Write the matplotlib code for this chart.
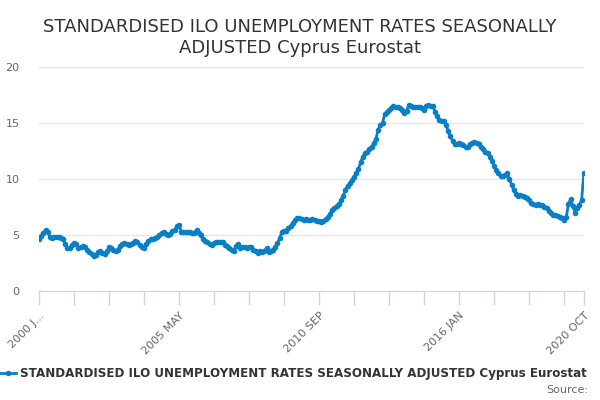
import numpy as np
import matplotlib
matplotlib.use("Agg")
from matplotlib import pyplot as plt

# monthly rates, 2000 JAN .. 2020 OCT
rates_2000_2004 = [
    4.6, 4.9, 5.2, 5.45, 5.3, 4.8, 4.7, 4.85, 4.85, 4.8, 4.7, 4.6,
    4.2, 3.8, 3.8, 4.1, 4.3, 4.2, 3.8, 3.9, 4.0, 3.9, 3.7, 3.5,
    3.3, 3.1, 3.2, 3.5, 3.6, 3.4, 3.3, 3.6, 3.9, 3.8, 3.7, 3.6,
    3.7, 4.0, 4.2, 4.3, 4.2, 4.1, 4.2, 4.3, 4.5, 4.4, 4.1, 3.9,
    3.8, 4.2, 4.5, 4.6, 4.6, 4.7, 4.8, 5.0, 5.2, 5.3, 5.1, 5.0,
]
rates_2005_2009 = [
    5.1, 5.4, 5.45, 5.8, 5.9, 5.3, 5.3, 5.3, 5.3, 5.3, 5.2, 5.2,
    5.45, 5.2, 5.0, 4.6, 4.5, 4.4, 4.2, 4.1, 4.3, 4.4, 4.4, 4.4,
    4.4, 4.1, 4.0, 3.8, 3.7, 3.6, 4.0, 4.2, 3.8, 3.95, 3.9, 3.8,
    3.9, 3.95, 3.7, 3.6, 3.4, 3.6, 3.5, 3.6, 3.8, 3.5, 3.6, 3.7,
    3.95, 4.3, 4.7, 5.3, 5.4, 5.4, 5.65, 5.8, 6.1, 6.3, 6.5, 6.5,
]
rates_2010_2014 = [
    6.4, 6.3, 6.4, 6.3, 6.3, 6.4, 6.3, 6.25, 6.25, 6.2, 6.25, 6.4,
    6.6, 6.9, 7.2, 7.4, 7.6, 7.8, 8.1, 8.5, 9.0, 9.4, 9.6, 9.9,
    10.2, 10.5, 10.9, 11.5, 12.0, 12.3, 12.4, 12.7, 12.9, 13.2, 13.6, 14.4,
    14.8, 15.0, 15.8, 16.0, 16.2, 16.3, 16.5, 16.4, 16.4, 16.3, 16.2, 15.9,
    16.1, 16.6, 16.5, 16.4, 16.4, 16.4, 16.4, 16.3, 16.2, 16.5, 16.6, 16.5,
]
rates_2015_2020 = [
    16.5, 16.0, 15.6, 15.3, 15.2, 15.2, 14.8, 14.3, 13.8, 13.4, 13.1, 13.1,
    13.2, 13.1, 13.0, 12.9, 12.9, 13.1, 13.2, 13.3, 13.2, 13.1, 12.9, 12.7,
    12.4, 12.3, 12.0, 11.6, 11.2, 10.8, 10.5, 10.3, 10.3, 10.4, 10.5, 10.0,
    9.5, 9.0, 8.7, 8.5, 8.6, 8.5, 8.4, 8.3, 8.1, 7.9, 7.8, 7.7,
    7.8, 7.7, 7.7, 7.5, 7.4, 7.1, 7.0, 6.8, 6.8, 6.7, 6.6, 6.5,
    6.3, 6.6, 7.8, 8.2, 7.6, 7.0, 7.4, 7.7, 8.1, 10.5,
]
rates = rates_2000_2004 + rates_2005_2009 + rates_2010_2014 + rates_2015_2020

tick_months = list(range(0, 241, 16)) + [249]
label_months = {0: "2000 J...", 64: "2005 MAY", 128: "2010 SEP",
                192: "2016 JAN", 249: "2020 OCT"}
y_ticks = [0, 5, 10, 15, 20]

series_name = "STANDARDISED ILO UNEMPLOYMENT RATES SEASONALLY ADJUSTED Cyprus Eurostat"
line_color = "#0a7fc6"

fig = plt.figure(figsize=(6, 4), dpi=100)
ax = fig.add_axes([0.065, 0.2725, 0.908, 0.56])

x = np.arange(len(rates))
ax.plot(x, rates, color=line_color, lw=2, marker="o", ms=3, zorder=3)

ax.set_xlim(0, len(rates) - 1)
ax.set_ylim(0, 20)
ax.set_yticks(y_ticks)
ax.set_yticklabels([str(v) for v in y_ticks], color="#666666", fontsize=8)
ax.tick_params(axis="y", length=0, pad=14)
ax.grid(axis="y", color="#e6e6e6", lw=1)
ax.set_axisbelow(True)

ax.set_xticks(tick_months)
ax.set_xticklabels([label_months.get(m, "") for m in tick_months],
                   rotation=45, ha="right", rotation_mode="anchor",
                   color="#666666", fontsize=8)
ax.tick_params(axis="x", length=10, color="#ccd6eb", width=1, pad=4)

for side in ["top", "right", "left"]:
    ax.spines[side].set_visible(False)
ax.spines["bottom"].set_color("#ccd6eb")

fig.text(0.5, 0.955, "STANDARDISED ILO UNEMPLOYMENT RATES SEASONALLY\nADJUSTED Cyprus Eurostat",
         ha="center", va="top", fontsize=13, color="#333333", linespacing=1.2)

# legend entry
fig.lines.append(plt.Line2D([0.0, 0.027], [0.0675, 0.0675], color=line_color, lw=2,
                            transform=fig.transFigure))
fig.lines.append(plt.Line2D([0.0135], [0.0675], color=line_color, marker="o", ms=3,
                            transform=fig.transFigure))
fig.text(0.034, 0.0675, series_name, ha="left", va="center",
         fontsize=8.6, fontweight="bold", color="#333333")
fig.text(0.98, 0.025, "Source:", ha="right", va="center", fontsize=8, color="#666666")

fig.savefig("out.png", dpi=100)
